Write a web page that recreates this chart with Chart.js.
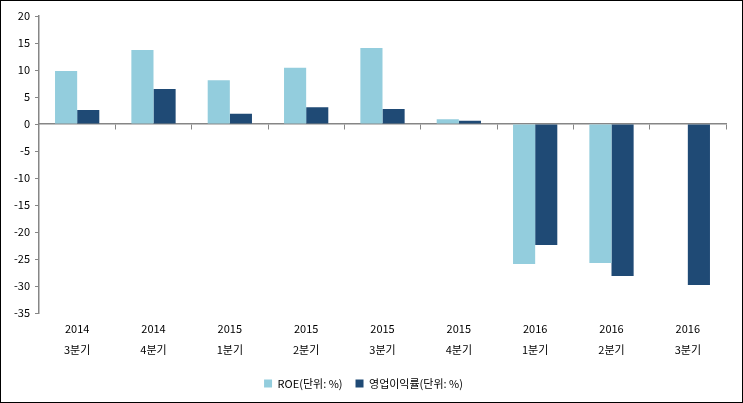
<!DOCTYPE html>
<html>
<head>
<meta charset="utf-8">
<script src="https://cdn.jsdelivr.net/npm/chart.js@4/dist/chart.umd.min.js"></script>
<style>
  html, body { margin: 0; padding: 0; background: #fff; }
  #wrap { width: 743px; height: 403px; box-sizing: border-box; border: 1px solid #000; }
</style>
</head>
<body>
<div id="wrap"><canvas id="grafico"></canvas></div>
<script>
// dati
var anni = ['2014', '2014', '2015', '2015', '2015', '2015', '2016', '2016', '2016'];
var trimestri = ['3분기', '4분기', '1분기', '2분기', '3분기', '4분기', '1분기', '2분기', '3분기'];
var roe = [9.8, 13.7, 8.1, 10.4, 14.1, 0.9, -25.9, -25.7, null];
var margine = [2.6, 6.5, 1.9, 3.1, 2.8, 0.6, -22.4, -28.1, -29.8];
var yTicks = [20, 15, 10, 5, 0, -5, -10, -15, -20, -25, -30, -35];

var etichette = anni.map(function (a, i) { return [a, trimestri[i]]; });
var font = { family: '"Noto Sans CJK KR", "Noto Sans", sans-serif', size: 11 };

new Chart(document.getElementById('grafico'), {
    type: 'bar',
    data: {
        labels: etichette,
        datasets: [{
            label: 'ROE(단위: %)',
            backgroundColor: '#93CDDD',
            data: roe
        },
        {
            label: '영업이익률(단위: %)',
            backgroundColor: '#1F4A75',
            data: margine
        }]
    },
    options: {
        responsive: true,
        maintainAspectRatio: false,
        animation: false,
        categoryPercentage: 0.58,
        barPercentage: 1,
        layout: { padding: { top: 15, right: 16, left: 0, bottom: 3 } },
        plugins: {
            legend: {
                position: 'bottom',
                labels: { boxWidth: 8, boxHeight: 8, color: '#000', font: font, padding: 13 }
            },
            tooltip: { enabled: false }
        },
        scales: {
            x: {
                position: { y: 0 },
                offset: true,
                grid: { offset: true, drawOnChartArea: false, tickLength: 5, color: '#868686' },
                border: { color: '#868686', width: 1.5 },
                ticks: { display: false }
            },
            x2: {
                type: 'category',
                position: 'bottom',
                labels: etichette,
                offset: true,
                grid: { display: false, drawTicks: false, tickLength: 0 },
                border: { display: false },
                ticks: { color: '#000', font: { family: font.family, size: 11, lineHeight: 1.9 }, maxRotation: 0, padding: 5 }
            },
            y: {
                min: -35,
                max: 20,
                afterBuildTicks: function (axis) {
                    axis.ticks = yTicks.map(function (v) { return { value: v }; });
                },
                afterFit: function (axis) { axis.width = 38; },
                grid: { drawOnChartArea: false, tickLength: 4, color: '#868686' },
                border: { color: '#868686', width: 1.5 },
                ticks: { color: '#000', font: font, padding: 5 }
            }
        }
    }
});
</script>
</body>
</html>
